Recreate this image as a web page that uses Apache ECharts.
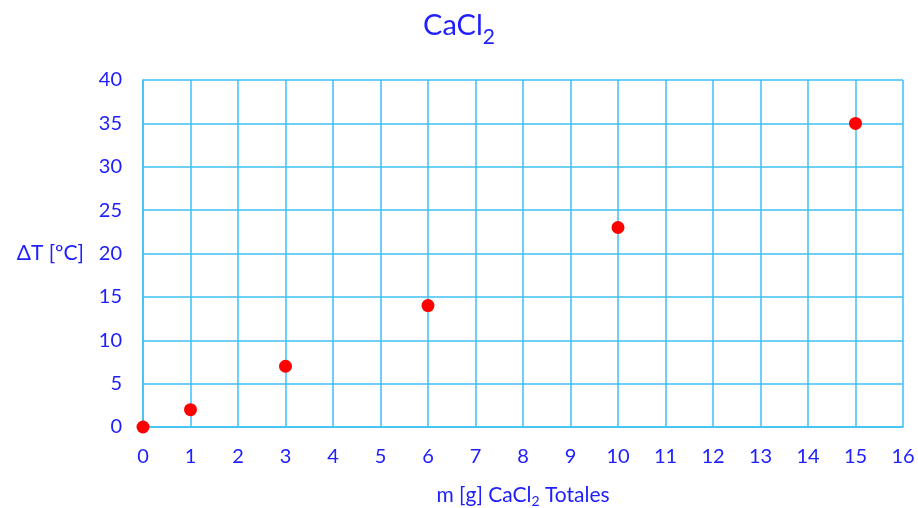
<!DOCTYPE html>
<html>
<head>
<meta charset="utf-8">
<script src="https://cdn.jsdelivr.net/npm/echarts@6/dist/echarts.min.js"></script>
<style>html,body{margin:0;padding:0;background:#fff;}#c{width:918px;height:508px;}</style>
</head>
<body>
<div id="c"></div>
<script>
var massValues = [0, 1, 3, 6, 10, 15];
var deltaTValues = [0, 2, 7, 14, 23, 35];
var xTicks = {min: 0, max: 16, interval: 1};
var yTicks = {min: 0, max: 40, interval: 5};

var blue = '#2020FF';
var gridColor = '#3EC1F3';
var font = 'Lato';

var points = massValues.map(function (m, i) { return [m, deltaTValues[i]]; });

var chart = echarts.init(document.getElementById('c'));
chart.setOption({
  backgroundColor: '#fff',
  animation: false,
  title: {
    text: '{a|CaCl}{s|2}',
    left: 'center',
    top: 6,
    textStyle: {
      fontWeight: 'normal',
      rich: {
        a: {fontFamily: font, fontSize: 29, fontWeight: 'normal', color: blue, verticalAlign: 'top', lineHeight: 37},
        s: {fontFamily: font, fontSize: 21, fontWeight: 'normal', color: blue, verticalAlign: 'bottom', lineHeight: 21}
      }
    }
  },
  grid: {left: 143, right: 15, top: 80, bottom: 81, outerBoundsMode: 'none', containLabel: false},
  xAxis: {
    type: 'value',
    min: xTicks.min, max: xTicks.max, interval: xTicks.interval,
    name: '{a|m [g] CaCl}{s|2}{a| Totales}',
    nameLocation: 'middle',
    nameGap: 58,
    nameTextStyle: {
      rich: {
        a: {fontFamily: font, fontSize: 21, color: blue, verticalAlign: 'top', lineHeight: 23},
        s: {fontFamily: font, fontSize: 14, color: blue, verticalAlign: 'bottom', lineHeight: 14}
      }
    },
    axisLine: {show: true, lineStyle: {color: gridColor, width: 1.5}},
    axisTick: {show: false},
    axisLabel: {color: blue, fontFamily: font, fontSize: 20, margin: 20},
    splitLine: {show: true, lineStyle: {color: gridColor, width: 1.5}}
  },
  yAxis: {
    type: 'value',
    min: yTicks.min, max: yTicks.max, interval: yTicks.interval,
    name: 'ΔT [ºC]',
    nameLocation: 'middle',
    nameRotate: 0,
    nameGap: 59,
    nameTextStyle: {color: blue, fontFamily: font, fontSize: 21},
    axisLine: {show: true, lineStyle: {color: gridColor, width: 1.5}},
    axisTick: {show: false},
    axisLabel: {color: blue, fontFamily: font, fontSize: 20, margin: 21},
    splitLine: {show: true, lineStyle: {color: gridColor, width: 1.5}}
  },
  series: [{
    type: 'scatter',
    data: points,
    symbol: 'circle',
    symbolSize: 13,
    itemStyle: {color: '#FF0000', opacity: 1},
    clip: false
  }]
});
</script>
</body>
</html>
